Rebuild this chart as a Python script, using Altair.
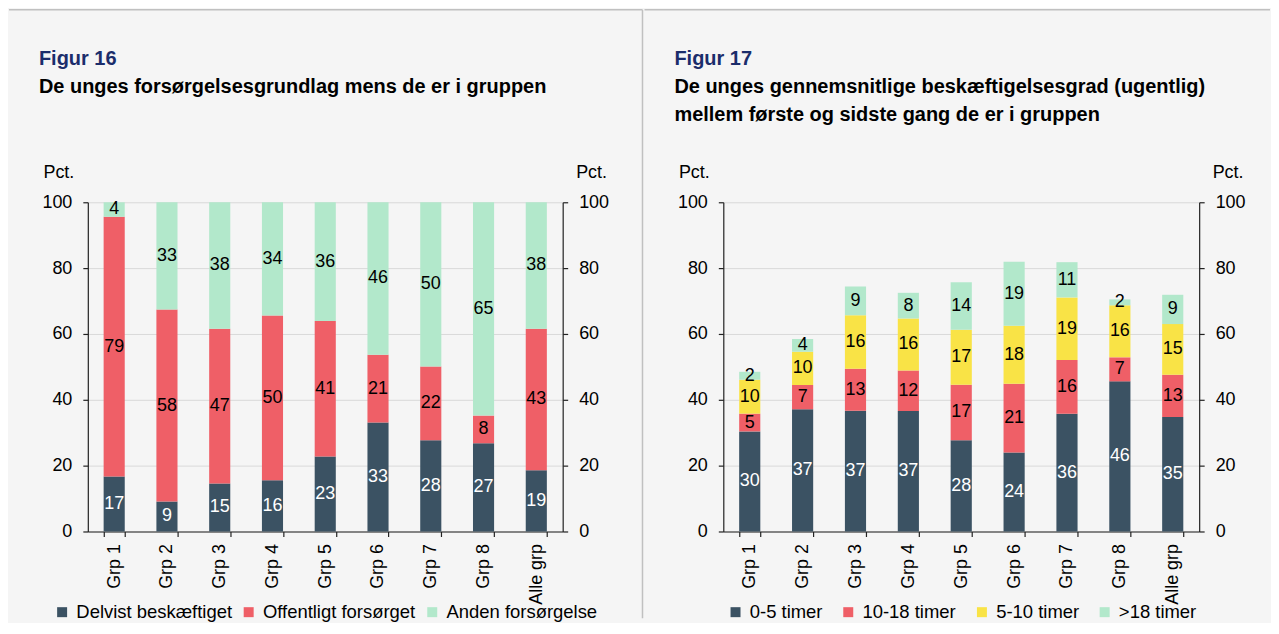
import altair as alt
import pandas as pd

# ---------------- data ----------------
groups = ["Grp 1", "Grp 2", "Grp 3", "Grp 4", "Grp 5", "Grp 6", "Grp 7", "Grp 8", "Alle grp"]

# Figur 16
fig16_series = ["Delvist beskæftiget", "Offentligt forsørget", "Anden forsørgelse"]
fig16_colors = ["#3b5263", "#ef5f67", "#b2e8cb"]
delvist_beskaeftiget = [16.7, 9.1, 14.6, 15.6, 22.8, 33.1, 27.7, 26.8, 18.6]
offentligt_forsorget = [78.9, 58.3, 47.0, 50.0, 41.1, 20.6, 22.4, 8.4, 43.0]
anden_forsorgelse = [4.4, 32.6, 38.4, 34.4, 36.1, 46.3, 49.9, 64.8, 38.4]

# Figur 17
fig17_series = ["0-5 timer", "10-18 timer", "5-10 timer", ">18 timer"]
fig17_colors = ["#3b5263", "#ef5f67", "#f9e346", "#b2e8cb"]
timer_0_5 = [30.4, 37.1, 36.7, 36.6, 27.7, 24.0, 35.8, 45.6, 34.8]
timer_10_18 = [5.4, 7.4, 12.7, 12.3, 16.9, 20.9, 16.3, 7.3, 12.8]
timer_5_10 = [10.3, 10.1, 16.3, 15.8, 16.7, 17.6, 19.0, 15.8, 15.4]
timer_over_18 = [2.4, 3.9, 8.7, 7.8, 14.4, 19.4, 10.7, 1.8, 8.9]

y_ticks = [0, 20, 40, 60, 80, 100]

FONT = "Liberation Sans"


def long_df(names, values):
    rows = []
    for k, (name, vals) in enumerate(zip(names, values)):
        for g, v in zip(groups, vals):
            rows.append({"grp": g, "serie": name, "order": k, "value": v})
    return pd.DataFrame(rows)


def panel(df, names, colors, title, subtitle, width, title_offset,
          legend_x, legend_pad, hline, vline=None):
    base = alt.Chart(df).transform_stack(
        stack="value", groupby=["grp"],
        sort=[alt.SortField("order", order="ascending")],
        as_=["y0", "y1"],
    ).transform_calculate(mid="(datum.y0 + datum.y1) / 2")

    x = alt.X(
        "grp:N", sort=groups, title=None,
        scale=alt.Scale(paddingInner=0.6, paddingOuter=0.3),
        axis=alt.Axis(labelAngle=270, tickBand="extent", tickSize=5,
                      labelPadding=7, grid=False),
    )
    yscale = alt.Scale(domain=[0, 100], nice=False, zero=True)

    bars = base.mark_bar().encode(
        x=x,
        y=alt.Y("y0:Q", scale=yscale,
                axis=alt.Axis(values=y_ticks, title="Pct.", titleAngle=0,
                              titleAlign="left", titleBaseline="middle",
                              titleX=-45, titleY=-30, grid=True,
                              gridColor="#d9d9d9", tickSize=5, labelPadding=11)),
        y2="y1:Q",
        color=alt.Color(
            "serie:N",
            scale=alt.Scale(domain=names, range=colors),
            legend=alt.Legend(title=None, orient="none", legendX=legend_x,
                              legendY=401.5, direction="horizontal",
                              columns=len(names), symbolType="square",
                              symbolSize=100, symbolStrokeWidth=0,
                              labelFontSize=18.5, labelOffset=5,
                              columnPadding=legend_pad, labelLimit=400),
        ),
    )

    labels = base.mark_text(fontSize=18, font=FONT, baseline="middle",
                            align="center").encode(
        x=x,
        y=alt.Y("mid:Q", scale=yscale,
                axis=alt.Axis(orient="right", values=y_ticks, title="Pct.",
                              titleAngle=0, titleAlign="left",
                              titleBaseline="middle", titleX=13, titleY=-30,
                              grid=False, tickSize=5, labelPadding=11)),
        text=alt.Text("value:Q", format=".0f"),
        fill=alt.condition("datum.order == 0", alt.value("white"), alt.value("black")),
    )

    deco_df = pd.DataFrame({"k": [0]})
    layers = [bars, labels]
    layers.append(
        alt.Chart(deco_df).mark_rule(color="#c0c0c0", strokeWidth=1.5).encode(
            x=alt.value(hline[0]), x2=alt.value(hline[1]), y=alt.value(-193))
    )
    if vline is not None:
        layers.append(
            alt.Chart(deco_df).mark_rule(color="#c0c0c0", strokeWidth=1.5).encode(
                x=alt.value(vline), y=alt.value(-193), y2=alt.value(417))
        )

    return alt.layer(*layers).resolve_axis(y="independent").properties(
        width=width, height=330,
        title=alt.TitleParams(
            text=title, subtitle=subtitle, anchor="start", frame="group",
            dx=-49, offset=title_offset, fontSize=20, fontWeight="bold",
            color="#1b2d6b", font=FONT, subtitleFont=FONT,
            subtitleFontSize=20, subtitleFontWeight="bold",
            subtitleColor="#000000", subtitlePadding=8,
            subtitleLineHeight=28.6,
        ),
    )


left = panel(
    long_df(fig16_series, [delvist_beskaeftiget, offentligt_forsorget, anden_forsorgelse]),
    fig16_series, fig16_colors,
    "Figur 16", "De unges forsørgelsesgrundlag mens de er i gruppen",
    476, -88, -35, 7, (-79, 556), vline=556,
)

right = panel(
    long_df(fig17_series, [timer_0_5, timer_10_18, timer_5_10, timer_over_18]),
    fig17_series, fig17_colors,
    "Figur 17",
    ["De unges gennemsnitlige beskæftigelsesgrad (ugentlig)",
     "mellem første og sidste gang de er i gruppen"],
    477, -116.5, 3, 16, (-79, 548),
)

chart = alt.hconcat(left, right, spacing=0).resolve_scale(
    color="independent"
).properties(
    padding=0, background="#f5f5f5"
).configure_view(stroke=None).configure_axis(
    domainColor="#222222", tickColor="#222222", domainWidth=1.2, tickWidth=1.2,
    labelFont=FONT, labelFontSize=18, labelColor="#000000",
    titleFont=FONT, titleFontSize=18, titleFontWeight="normal", titleColor="#000000",
).configure_legend(labelFont=FONT, labelColor="#000000")

chart.save("out.html", embed_options={"renderer": "svg", "actions": False})
